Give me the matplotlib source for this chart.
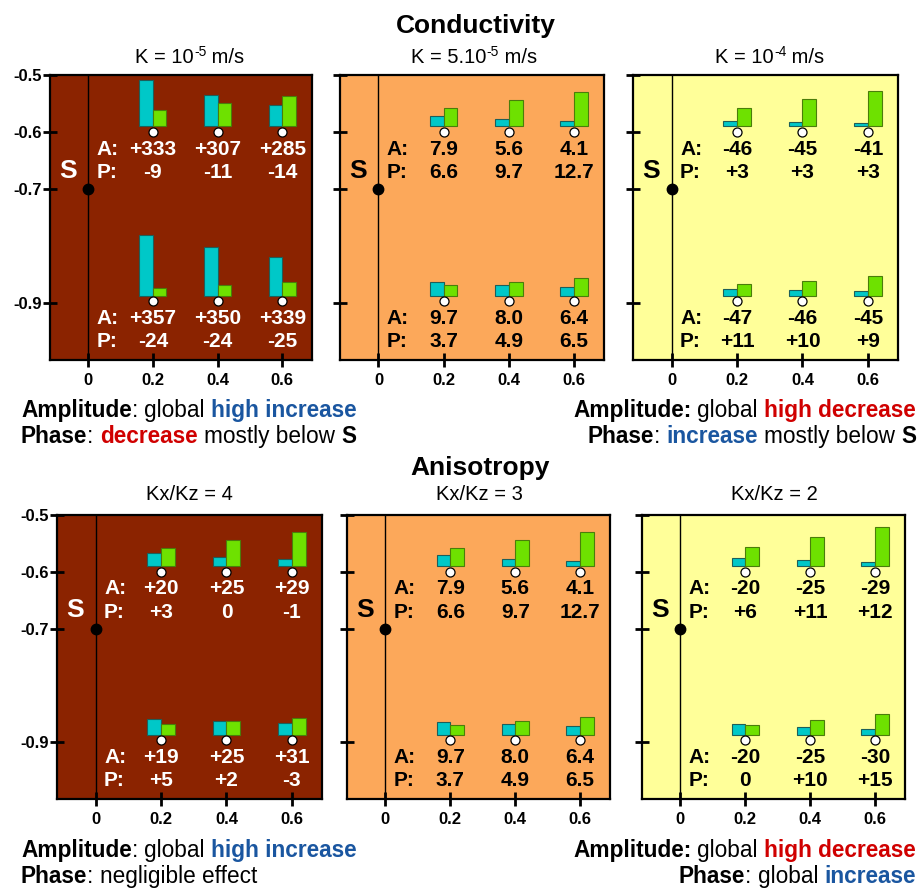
import matplotlib
matplotlib.use("Agg")
import matplotlib.pyplot as plt

plt.rcParams["font.family"] = ["Liberation Sans", "DejaVu Sans"]

# ---------------- data ----------------
positions = [0.2, 0.4, 0.6]          # horizontal distance of the observation points
obs_depths = [-0.6, -0.897]          # upper and lower observation rows
xtick_vals = [0, 0.2, 0.4, 0.6]
xtick_labels = ["0", "0.2", "0.4", "0.6"]
ytick_vals = [-0.5, -0.6, -0.7, -0.9]
ytick_labels = ["-0.5", "-0.6", "-0.7", "-0.9"]
source_depth = -0.7

# reference case (K = 5.10^-5 m/s, Kx/Kz = 3): absolute amplitude and phase
ref_amp_top = [7.9, 5.6, 4.1]
ref_phase_top = [6.6, 9.7, 12.7]
ref_amp_bot = [9.7, 8.0, 6.4]
ref_phase_bot = [3.7, 4.9, 6.5]

# relative changes (%) with respect to the reference case
k_low_amp_top = [333, 307, 285]
k_low_phase_top = [-9, -11, -14]
k_low_amp_bot = [357, 350, 339]
k_low_phase_bot = [-24, -24, -25]

k_high_amp_top = [-46, -45, -41]
k_high_phase_top = [3, 3, 3]
k_high_amp_bot = [-47, -46, -45]
k_high_phase_bot = [11, 10, 9]

aniso4_amp_top = [20, 25, 29]
aniso4_phase_top = [3, 0, -1]
aniso4_amp_bot = [19, 25, 31]
aniso4_phase_bot = [5, 2, -3]

aniso2_amp_top = [-20, -25, -29]
aniso2_phase_top = [6, 11, 12]
aniso2_amp_bot = [-20, -25, -30]
aniso2_phase_bot = [0, 10, 15]

# panel headings: (base text, exponent, unit)
k_titles = [("K = 10", "-5", " m/s"), ("K = 5.10", "-5", " m/s"), ("K = 10", "-4", " m/s")]
aniso_titles = ["Kx/Kz = 4", "Kx/Kz = 3", "Kx/Kz = 2"]

# ---------------- style ----------------
W, H = 920, 888
AMP_SCALE = 1.35 / 567.5     # depth units per amplitude unit
PHASE_SCALE = 2.72 / 567.5   # depth units per phase unit
BAR_W = 0.042
BAR_LIFT = 0.01
C_AMP, E_AMP = "#00C8C8", "#1d5f5a"
C_PH, E_PH = "#6EE100", "#4a7d0a"
BLUE, RED = "#1a56a0", "#d00000"
BG = {"dark": "#8B2300", "mid": "#FCA85A", "light": "#FFFF99"}
VAL_FS = 15
TICK_FS = 12
NOTE_FS = 16.3
SUB_FS = 14.5

fig = plt.figure(figsize=(W / 100, H / 100), dpi=100)
renderer = fig.canvas.get_renderer()


def fbox(x0, y0, x1, y1):
    return [x0 / W, 1 - y1 / H, (x1 - x0) / W, (y1 - y0) / H]


def fmt_change(v):
    return "0" if v == 0 else f"{v:+d}"


def fmt_abs(v):
    return f"{v:.1f}"


def absolute(ref, change):
    if change is None:
        return list(ref)
    return [r * (1 + c / 100.0) for r, c in zip(ref, change)]


def advance(s, weight, size):
    a = fig.text(0, 0, "|" + s + "|", fontsize=size, weight=weight)
    b = fig.text(0, 0, "||", fontsize=size, weight=weight)
    w = a.get_window_extent(renderer).width - b.get_window_extent(renderer).width
    a.remove()
    b.remove()
    return w


def rich_line(x_px, y_px, tokens, align="left", size=NOTE_FS):
    """Draw a line made of differently styled pieces; tokens are
    (text, weight, color[, size, raise_px])."""
    toks = []
    for t in tokens:
        s, w, c = t[:3]
        sz = t[3] if len(t) > 3 else size
        dy = t[4] if len(t) > 4 else 0
        toks.append((s, w, c, sz, dy))
    widths = [advance(s, w, sz) for s, w, c, sz, dy in toks]
    total = sum(widths)
    if align == "left":
        x = x_px
    elif align == "right":
        x = x_px - total
    else:
        x = x_px - total / 2
    for (s, w, c, sz, dy), wd in zip(toks, widths):
        if s.strip():
            fig.text(x / W, 1 - (y_px - dy) / H, s, fontsize=sz, weight=w, color=c,
                     ha="left", va="baseline")
        x += wd


panels = [
    dict(box=(50, 75, 312, 360), bg="dark", fg="white", left=True, tx=190,
         ch=(k_low_amp_top, k_low_phase_top, k_low_amp_bot, k_low_phase_bot)),
    dict(box=(340, 75, 604, 360), bg="mid", fg="black", left=False, tx=474, ch=None),
    dict(box=(633, 75, 898, 360), bg="light", fg="black", left=False, tx=770,
         ch=(k_high_amp_top, k_high_phase_top, k_high_amp_bot, k_high_phase_bot)),
    dict(box=(57, 515, 322, 799), bg="dark", fg="white", left=True, tx=189,
         ch=(aniso4_amp_top, aniso4_phase_top, aniso4_amp_bot, aniso4_phase_bot)),
    dict(box=(347, 515, 610, 799), bg="mid", fg="black", left=False, tx=479, ch=None),
    dict(box=(642, 515, 905, 799), bg="light", fg="black", left=False, tx=774,
         ch=(aniso2_amp_top, aniso2_phase_top, aniso2_amp_bot, aniso2_phase_bot)),
]

refs = (ref_amp_top, ref_phase_top, ref_amp_bot, ref_phase_bot)

for i, p in enumerate(panels):
    ax = fig.add_axes(fbox(*p["box"]))
    ax.set_facecolor(BG[p["bg"]])
    ax.set_xlim(-0.118, 0.692)
    ax.set_ylim(-1.0, -0.5)
    ax.set_xticks(xtick_vals)
    ax.set_xticklabels(xtick_labels, fontsize=TICK_FS, fontweight="bold")
    ax.set_yticks(ytick_vals)
    if p["left"]:
        ax.set_yticklabels(ytick_labels, fontsize=TICK_FS, fontweight="bold")
    else:
        ax.set_yticklabels([])
    ax.tick_params(direction="inout", length=10, width=2, pad=1)
    ax.tick_params(axis="x", pad=4)
    for s in ax.spines.values():
        s.set_linewidth(1.6)

    fg = p["fg"]
    ax.axvline(0, color="black", lw=1, zorder=1)
    ax.plot([0], [source_depth], "o", color="black", ms=7.5, zorder=6)
    ax.text(-0.063, -0.668, "S", fontsize=19, weight="bold", color=fg,
            ha="center", va="center")

    ch = p["ch"]
    rows = [(obs_depths[0], 0, 1), (obs_depths[1], 2, 3)]
    for depth, ia, ip in rows:
        if ch is None:
            amps, phs = refs[ia], refs[ip]
            a_txt = [fmt_abs(v) for v in amps]
            p_txt = [fmt_abs(v) for v in phs]
        else:
            amps = absolute(refs[ia], ch[ia])
            phs = absolute(refs[ip], ch[ip])
            a_txt = [fmt_change(v) for v in ch[ia]]
            p_txt = [fmt_change(v) for v in ch[ip]]
        base = depth + BAR_LIFT
        ax.bar(positions, [a * AMP_SCALE for a in amps], width=-BAR_W, align="edge",
               bottom=base, color=C_AMP, edgecolor=E_AMP, lw=0.8, zorder=3)
        ax.bar(positions, [v * PHASE_SCALE for v in phs], width=BAR_W, align="edge",
               bottom=base, color=C_PH, edgecolor=E_PH, lw=0.8, zorder=3)
        ax.plot(positions, [depth] * len(positions), "o", mfc="white", mec="black",
                mew=0.9, ms=6.5, zorder=5)
        ya, yp = depth - 0.030, depth - 0.071
        ax.text(0.026, ya, "A:", fontsize=VAL_FS, weight="bold", color=fg, ha="left", va="center")
        ax.text(0.026, yp, "P:", fontsize=VAL_FS, weight="bold", color=fg, ha="left", va="center")
        for x, ta, tp in zip(positions, a_txt, p_txt):
            ax.text(x, ya, ta, fontsize=VAL_FS, weight="bold", color=fg, ha="center", va="center")
            ax.text(x, yp, tp, fontsize=VAL_FS, weight="bold", color=fg, ha="center", va="center")

    if i < 3:
        base_txt, expo, unit = k_titles[i]
        rich_line(p["tx"], 63, [(base_txt, "normal", "black"),
                                (expo, "normal", "black", SUB_FS * 0.68, 6.5),
                                (unit, "normal", "black")], align="center", size=SUB_FS)
    else:
        fig.text(p["tx"] / W, 1 - 500 / H, aniso_titles[i - 3], fontsize=SUB_FS,
                 ha="center", va="baseline")

fig.text(476 / W, 1 - 33 / H, "Conductivity", fontsize=19, weight="bold",
         ha="center", va="baseline")
fig.text(480 / W, 1 - 475 / H, "Anisotropy", fontsize=19, weight="bold",
         ha="center", va="baseline")

B, N, K = "bold", "normal", "black"
SP = (" ", N, K)

rich_line(21, 417, [("Amplitude", B, K), (":", N, K), SP, ("global", N, K), SP,
                    ("high increase", B, BLUE)])
rich_line(21, 443, [("Phase", B, K), (":", N, K), SP, ("decrease", B, RED), SP,
                    ("mostly below", N, K), SP, ("S", B, K)])
rich_line(916, 417, [("Amplitude:", B, K), SP, ("global", N, K), SP,
                     ("high decrease", B, RED)], align="right")
rich_line(916, 443, [("Phase", B, K), (":", N, K), SP, ("increase", B, BLUE), SP,
                     ("mostly below", N, K), SP, ("S", B, K)], align="right")

rich_line(21, 857, [("Amplitude", B, K), (":", N, K), SP, ("global", N, K), SP,
                    ("high increase", B, BLUE)])
rich_line(21, 883, [("Phase", B, K), (":", N, K), SP, ("negligible effect", N, K)])
rich_line(916, 857, [("Amplitude:", B, K), SP, ("global", N, K), SP,
                     ("high decrease", B, RED)], align="right")
rich_line(916, 883, [("Phase", B, K), (":", N, K), SP, ("global", N, K), SP,
                     ("increase", B, BLUE)], align="right")

fig.savefig("out.png", dpi=100)
